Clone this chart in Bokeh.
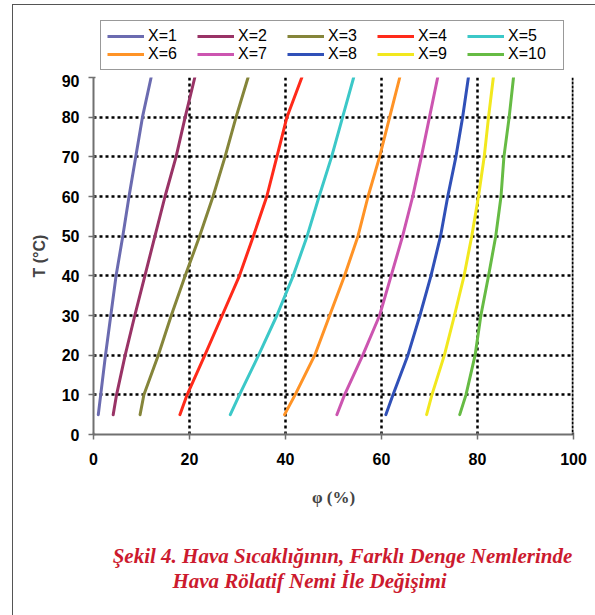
from bokeh.plotting import figure
from bokeh.layouts import column, row
from bokeh.models import (Legend, LegendItem, Range1d, FixedTicker, Label, Span, Spacer)
from bokeh.embed import file_html
from bokeh.resources import INLINE

# ---- data ----
T = [5, 10, 20, 30, 40, 50, 60, 70, 80, 90]
phi_x1 = [1.0, 1.5, 2.5, 3.6, 4.7, 6.1, 7.4, 8.8, 10.2, 12.0]
phi_x2 = [4.1, 4.8, 6.6, 8.6, 10.7, 12.8, 14.9, 17.2, 19.1, 21.1]
phi_x3 = [9.7, 10.5, 13.5, 16.2, 19.1, 22.1, 24.9, 27.4, 29.7, 32.2]
phi_x4 = [18.0, 19.5, 23.2, 26.8, 30.4, 33.3, 36.1, 38.2, 40.3, 43.4]
phi_x5 = [28.5, 30.4, 34.4, 38.2, 41.6, 44.5, 47.0, 49.6, 51.9, 54.2]
phi_x6 = [39.8, 42.0, 46.1, 49.2, 52.3, 55.1, 57.2, 59.6, 61.7, 63.8]
phi_x7 = [50.7, 52.3, 56.1, 59.6, 62.0, 64.4, 66.5, 68.3, 70.0, 71.7]
phi_x8 = [60.9, 62.4, 65.5, 68.0, 70.3, 72.3, 73.8, 75.5, 76.9, 78.1]
phi_x9 = [69.4, 70.5, 73.1, 75.2, 77.2, 78.8, 80.2, 81.4, 82.3, 83.3]
phi_x10 = [76.3, 77.6, 79.5, 80.7, 82.3, 83.8, 84.9, 85.5, 86.6, 87.5]

series_names = ["X=1", "X=2", "X=3", "X=4", "X=5", "X=6", "X=7", "X=8", "X=9", "X=10"]
series_values = [phi_x1, phi_x2, phi_x3, phi_x4, phi_x5, phi_x6, phi_x7, phi_x8, phi_x9, phi_x10]
colors = ["#6B6BB0", "#993366", "#85853A", "#FF2A1A", "#3CC8C8",
          "#FF9326", "#CC55B0", "#3050B8", "#F2E81E", "#66BB44"]

x_ticks = [0, 20, 40, 60, 80, 100]
y_ticks = [0, 10, 20, 30, 40, 50, 60, 70, 80, 90]

x_label = "φ (%)"
y_label = "T (°C)"
caption_1 = "Şekil 4. Hava Sıcaklığının, Farklı Denge Nemlerinde"
caption_2 = "Hava Rölatif Nemi İle Değişimi"

W = 595
H = 615
TOP_H = 74        # legend strip
MAIN_H = 446      # chart strip
CAP_H = H - TOP_H - MAIN_H
LEFT_W = 13       # gap holding the outer frame's left line
FRAME_COLOR = "#555555"


def blank(width, height):
    f = figure(width=width, height=height, output_backend="svg",
               toolbar_location=None, x_axis_location=None, y_axis_location=None,
               x_range=Range1d(0, width), y_range=Range1d(height, 0),
               min_border=0)
    f.outline_line_color = None
    f.xgrid.visible = False
    f.ygrid.visible = False
    f.border_fill_alpha = 0
    f.background_fill_alpha = 0
    return f


# ---- main chart ----
p = figure(width=W - LEFT_W, height=MAIN_H,
           output_backend="svg", toolbar_location=None,
           x_range=Range1d(0, 100), y_range=Range1d(0, 90),
           min_border_left=93 - LEFT_W, min_border_right=22,
           min_border_top=3, min_border_bottom=MAIN_H - 3 - 357)
p.outline_line_color = None

for ax, ticks in ((p.xaxis[0], x_ticks), (p.yaxis[0], y_ticks)):
    ax.ticker = FixedTicker(ticks=ticks)
    ax.minor_tick_line_color = None
    ax.axis_line_color = "#707070"
    ax.axis_line_width = 2
    ax.major_tick_line_color = "#707070"
    ax.major_tick_line_width = 1.5
    ax.major_tick_in = 2
    ax.major_tick_out = 5
    ax.major_label_text_font = "Liberation Sans"
    ax.major_label_text_font_style = "bold"
    ax.major_label_text_font_size = "16px"
    ax.major_label_text_color = "black"

p.xaxis.major_label_standoff = 13
p.yaxis.major_label_standoff = 9
p.xaxis.axis_label = x_label
p.xaxis.axis_label_text_font = "Liberation Serif"
p.xaxis.axis_label_text_font_style = "bold"
p.xaxis.axis_label_text_font_size = "17px"
p.xaxis.axis_label_standoff = 20
p.yaxis.axis_label = y_label
p.yaxis.axis_label_text_font = "Liberation Sans"
p.yaxis.axis_label_text_font_style = "bold"
p.yaxis.axis_label_text_font_size = "16px"
p.yaxis.axis_label_standoff = 11

p.xgrid.ticker = FixedTicker(ticks=[20, 40, 60, 80])
p.ygrid.ticker = FixedTicker(ticks=[10, 20, 30, 40, 50, 60, 70, 80, 90])
for g in (p.xgrid[0], p.ygrid[0]):
    g.grid_line_color = "black"
    g.grid_line_width = 2.5
    g.grid_line_dash = "3 3"
p.add_layout(Span(location=100, dimension="height", line_color="black",
                  line_width=3.5, line_dash="3 1"))

for vals, col in zip(series_values, colors):
    p.line(vals, T, line_color=col, line_width=3, line_join="round", line_cap="round")

# ---- legend strip ----
top = blank(W, TOP_H)
top.extra_x_ranges = {"d": Range1d(1000, 1100)}
top.extra_y_ranges = {"d": Range1d(1000, 1100)}
leg_renderers = [top.line(vals, T, line_color=col, line_width=3,
                          x_range_name="d", y_range_name="d")
                 for vals, col in zip(series_values, colors)]
order = [0, 5, 1, 6, 2, 7, 3, 8, 4, 9]   # column by column -> two rows of five
items = [LegendItem(label=series_names[i], renderers=[leg_renderers[i]]) for i in order]
lg = Legend(items=items, ncols=5, location=(100, TOP_H - 70),
            glyph_width=37, glyph_height=18, label_height=18,
            label_width=49, label_standoff=4, spacing=0, padding=6,
            margin=0, border_line_color="#333333", border_line_width=1.2,
            background_fill_color="white",
            label_text_font="Liberation Sans", label_text_font_size="16px",
            label_text_color="black")
top.add_layout(lg, "center")

left = Spacer(width=LEFT_W, height=MAIN_H)

# ---- caption strip ----
cap = blank(W, CAP_H)
for txt, cx, base in ((caption_1, 342, 555), (caption_2, 309, 580)):
    cap.add_layout(Label(x=cx, y=base - TOP_H - MAIN_H, text=txt, text_align="center",
                         text_baseline="alphabetic", text_font="Liberation Serif",
                         text_font_style="bold italic", text_font_size="21px",
                         text_color="#CC1A2E"))

# outer frame (left and top lines) drawn as the page background of the layout
frame_bg = (f"linear-gradient({FRAME_COLOR}, {FRAME_COLOR}) 12px 4px / 1px {H - 4}px no-repeat, "
            f"linear-gradient({FRAME_COLOR}, {FRAME_COLOR}) 12px 4px / {W - 12}px 1px no-repeat, "
            "#ffffff")
layout = column(top, row(left, p, spacing=0), cap, spacing=0,
                styles={"background": frame_bg})
open("out.html", "w").write(file_html(layout, INLINE))
